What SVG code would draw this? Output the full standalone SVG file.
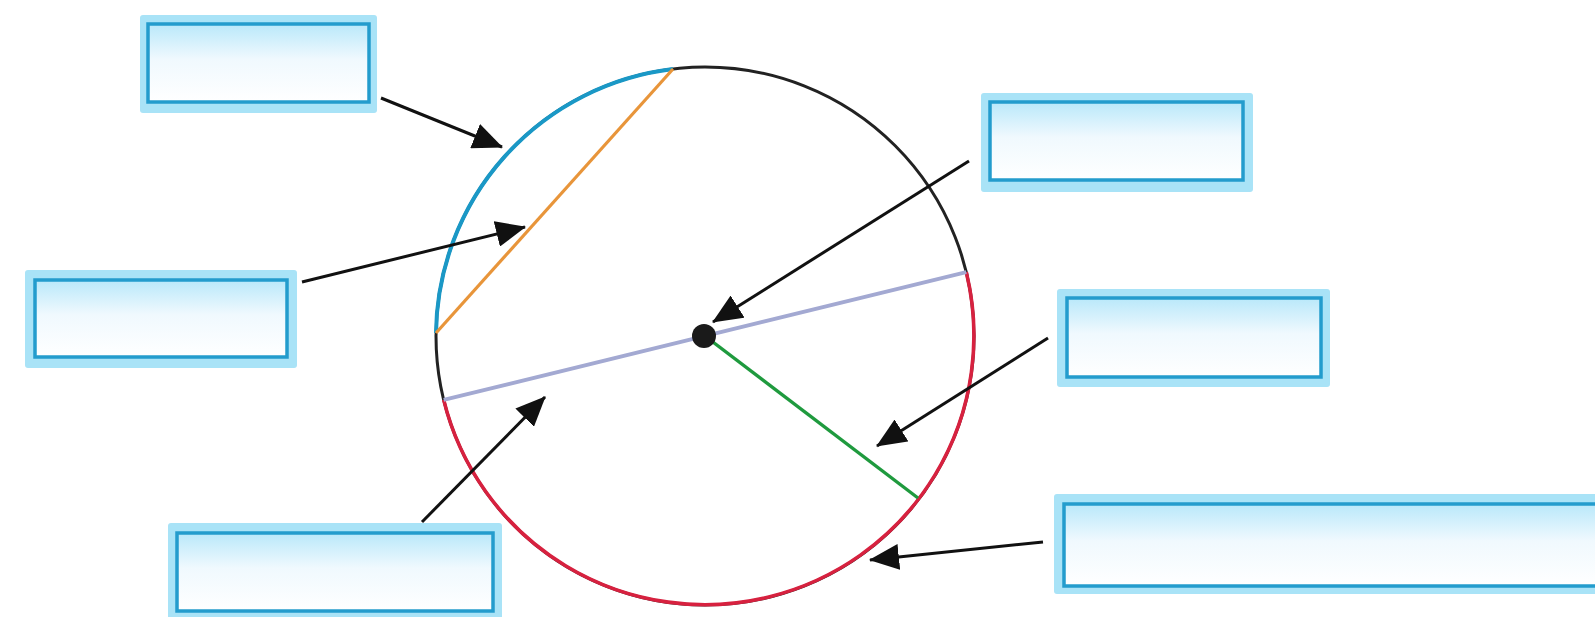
<svg xmlns="http://www.w3.org/2000/svg" width="1595" height="617" viewBox="0 0 1595 617">
  <style>
    .outer { fill: #a9e3f7; }
    .inner { fill: url(#boxGrad); stroke: #239ccd; stroke-width: 3.5; }
    .conn { stroke: #111; stroke-width: 3; fill: none; marker-end: url(#arrow); }
  </style>
  <defs>
    <linearGradient id="boxGrad" x1="0" y1="0" x2="0" y2="1">
      <stop offset="0" stop-color="#b9e8fa"/>
      <stop offset="0.45" stop-color="#f0f9fe"/>
      <stop offset="1" stop-color="#ffffff"/>
    </linearGradient>
    <marker id="arrow" markerUnits="userSpaceOnUse" viewBox="0 0 30 26" refX="29" refY="13" markerWidth="30" markerHeight="26" orient="auto">
      <path d="M0,0 L30,13 L0,26 z" fill="#111"/>
    </marker>
  </defs>
  <rect width="1595" height="617" fill="#ffffff"/>

  <g id="circle">
    <circle cx="705" cy="336" r="269" fill="none" stroke="#222" stroke-width="3"/>
    <path d="M673,69 A269,269 0 0 0 436,333" fill="none" stroke="#1a98c6" stroke-width="4"/>
    <path d="M443.7,399.9 A269,269 0 0 0 966.3,272.1" fill="none" stroke="#d7213f" stroke-width="3.6"/>
  </g>
  <g id="chord">
    <line x1="673" y1="69" x2="436" y2="333" stroke="#e8953a" stroke-width="3.2"/>
  </g>
  <g id="diameter">
    <line x1="443.7" y1="399.9" x2="966.3" y2="272.1" stroke="#a3a9d2" stroke-width="3.8"/>
  </g>
  <g id="radius">
    <line x1="705" y1="336" x2="918" y2="498" stroke="#1f9a3e" stroke-width="3.4"/>
  </g>
  <g id="centre">
    <circle cx="704" cy="336" r="12" fill="#1a1a1a"/>
  </g>

  <g id="box1">
    <rect class="outer" x="140" y="15" width="237" height="98" rx="3"/>
    <rect class="inner" x="148" y="24" width="221" height="78"/>
  </g>
  <g id="box2">
    <rect class="outer" x="25" y="270" width="272" height="98" rx="3"/>
    <rect class="inner" x="35" y="280" width="252" height="77"/>
  </g>
  <g id="box3">
    <rect class="outer" x="981" y="93" width="272" height="99" rx="3"/>
    <rect class="inner" x="990" y="102" width="253" height="78"/>
  </g>
  <g id="box4">
    <rect class="outer" x="1057" y="289" width="273" height="98" rx="3"/>
    <rect class="inner" x="1067" y="298" width="254" height="79"/>
  </g>
  <g id="box5">
    <rect class="outer" x="1054" y="494" width="560" height="100" rx="3"/>
    <rect class="inner" x="1064" y="504" width="545" height="82"/>
  </g>
  <g id="box6">
    <rect class="outer" x="168" y="523" width="334" height="100" rx="3"/>
    <rect class="inner" x="177" y="533" width="316" height="78"/>
  </g>

  <g id="connectors">
    <line class="conn" x1="381" y1="98" x2="502" y2="147"/>
    <line class="conn" x1="302" y1="282" x2="525" y2="227"/>
    <line class="conn" x1="969" y1="161" x2="713" y2="322"/>
    <line class="conn" x1="1048" y1="338" x2="877" y2="446"/>
    <line class="conn" x1="1043" y1="542" x2="870" y2="560"/>
    <line class="conn" x1="422" y1="522" x2="545" y2="397"/>
  </g>
</svg>
